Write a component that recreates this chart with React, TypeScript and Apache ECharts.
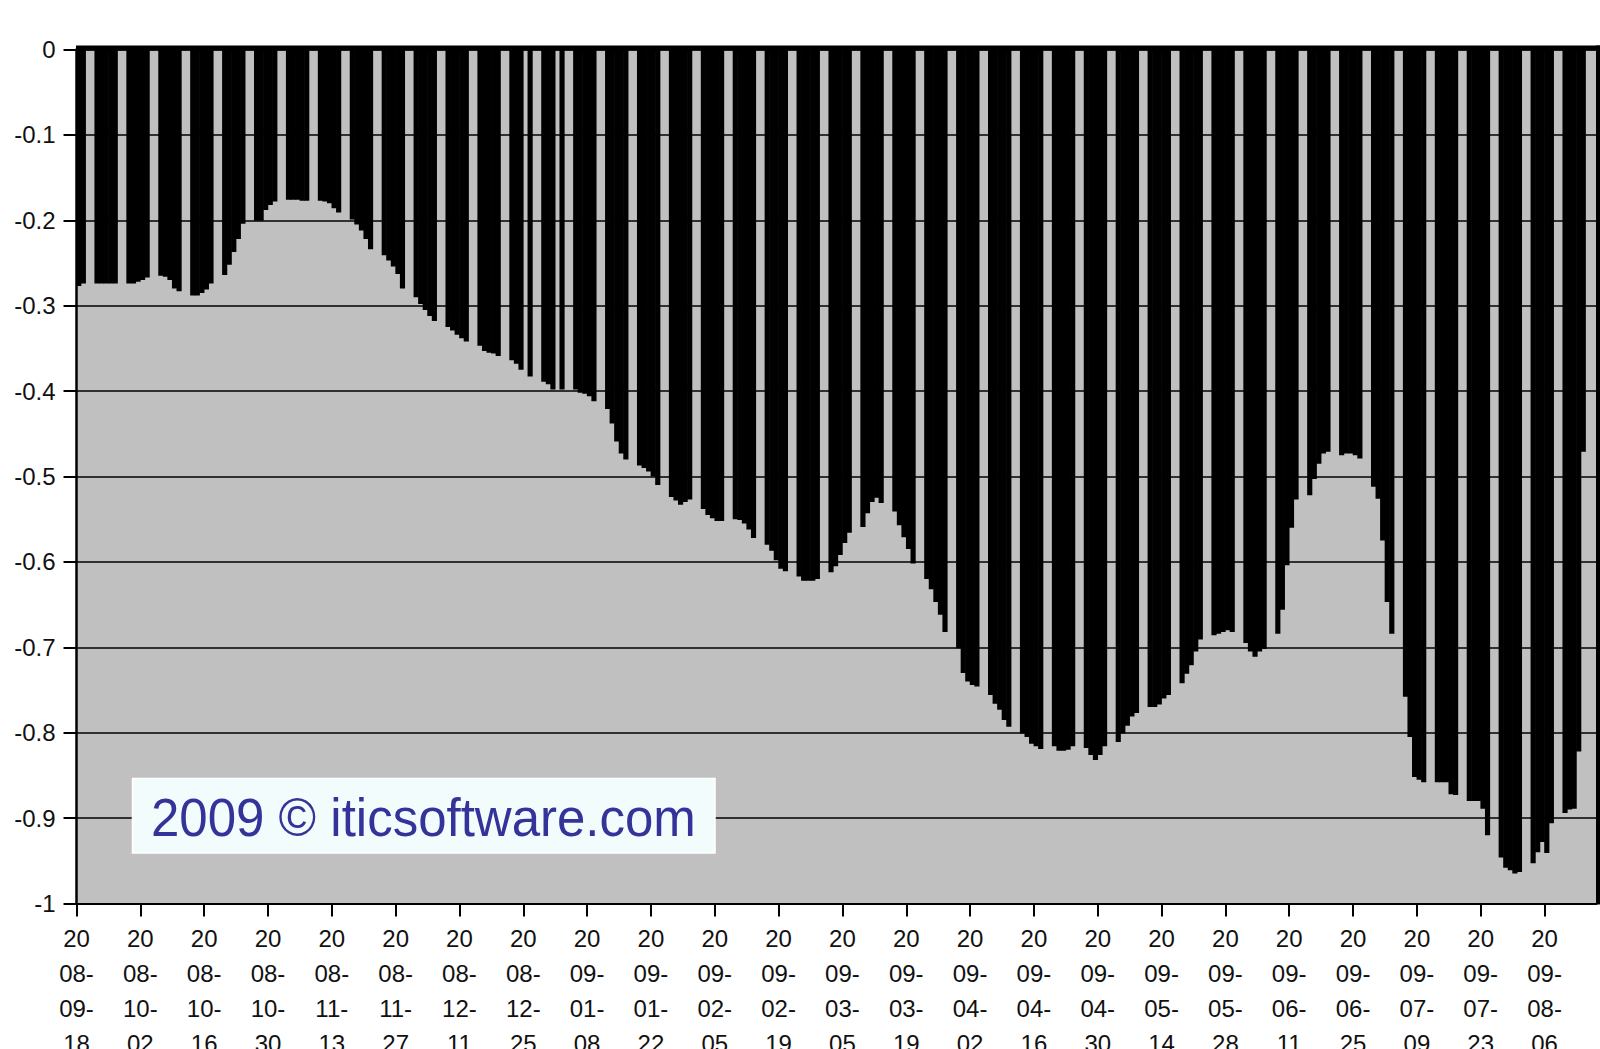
import { useEffect, useRef } from "react";
import * as echarts from "echarts";

// First trading day shown; each value below is one weekday (Mon–Fri) in order, null = no data that day.
const startDate = "2008-09-18";

// 2008-09-18 .. 2008-10-31
const lossSepOct2008: (number | null)[] = [
  -0.277, -0.274,
  -0.274, -0.274, -0.274, -0.274, -0.274,
  -0.274, -0.274, -0.272, -0.27, -0.267,
  -0.265, -0.266, -0.27, -0.28, -0.283,
  -0.288, -0.288, -0.285, -0.281, -0.274,
  -0.264, -0.252, -0.237, -0.222, -0.204,
  -0.2005, -0.2005, -0.188, -0.182, -0.178,
];

// 2008-11-03 .. 2008-12-31
const lossNovDec2008: (number | null)[] = [
  -0.176, -0.176, -0.176, -0.177, -0.177,
  -0.177, -0.178, -0.18, -0.186, -0.191,
  -0.199, -0.205, -0.212, -0.222, -0.234,
  -0.241, -0.247, -0.254, -0.263, -0.28,
  -0.29, -0.298, -0.305, -0.312, -0.318,
  -0.325, -0.329, -0.334, -0.338, -0.342,
  -0.347, -0.353, -0.355, -0.356, -0.359,
  -0.364, -0.368, -0.375, null, -0.383,
  -0.389, -0.392, -0.398,
];

// 2009-01-01 .. 2009-03-27
const lossJanMar2009: (number | null)[] = [
  null, -0.398,
  -0.398, -0.402, -0.403, -0.406, -0.412,
  -0.421, -0.438, -0.459, -0.473, -0.48,
  -0.487, -0.49, -0.494, -0.5, -0.51,
  -0.524, -0.528, -0.533, -0.53, -0.527,
  -0.538, -0.545, -0.549, -0.552, -0.552,
  -0.55, -0.551, -0.555, -0.562, -0.572,
  -0.58, -0.587, -0.598, -0.608, -0.611,
  -0.617, -0.622, -0.622, -0.622, -0.62,
  -0.612, -0.605, -0.592, -0.578, -0.566,
  -0.559, -0.543, -0.53, -0.525, -0.531,
  -0.541, -0.557, -0.571, -0.585, -0.602,
  -0.62, -0.632, -0.647, -0.662, -0.682,
];

// 2009-03-30 .. 2009-05-29
const lossAprMay2009: (number | null)[] = [
  -0.701, -0.73, -0.74, -0.744, -0.746,
  -0.756, -0.766, -0.773, -0.785, -0.793,
  -0.801, -0.805, -0.813, -0.816, -0.819,
  -0.816, -0.821, -0.821, -0.82, -0.816,
  -0.818, -0.826, -0.832, -0.826, -0.816,
  -0.811, -0.801, -0.792, -0.781, -0.777,
  -0.77, -0.77, -0.767, -0.76, -0.756,
  -0.742, -0.731, -0.721, -0.705, -0.691,
  -0.686, -0.684, -0.682, -0.68, -0.682,
  -0.695, -0.705, -0.711, -0.705, -0.702,
];

// 2009-06-01 .. 2009-08-14
const lossJunAug2009: (number | null)[] = [
  -0.684, -0.656, -0.604, -0.56, -0.527,
  -0.522, -0.503, -0.485, -0.473, -0.471,
  -0.475, -0.473, -0.473, -0.475, -0.479,
  -0.512, -0.526, -0.575, -0.647, -0.684,
  -0.758, -0.805, -0.852, -0.855, -0.858,
  -0.858, -0.858, -0.858, -0.872, -0.873,
  -0.88, -0.88, -0.88, -0.889, -0.92,
  -0.946, -0.958, -0.961, -0.965, -0.963,
  -0.953, -0.94, -0.928, -0.941, -0.906,
  -0.894, -0.89, -0.889, -0.822, -0.471,
];

// Tick labels every 14 days on the date axis
const tickDates = [
  "2008-09-18", "2008-10-02", "2008-10-16", "2008-10-30", "2008-11-13", "2008-11-27",
  "2008-12-11", "2008-12-25", "2009-01-08", "2009-01-22", "2009-02-05", "2009-02-19",
  "2009-03-05", "2009-03-19", "2009-04-02", "2009-04-16", "2009-04-30", "2009-05-14",
  "2009-05-28", "2009-06-11", "2009-06-25", "2009-07-09", "2009-07-23", "2009-08-06",
];

const yTicks = [0, -0.1, -0.2, -0.3, -0.4, -0.5, -0.6, -0.7, -0.8, -0.9, -1];
const watermark = "2009 \u00A9 iticsoftware.com";

const FONT = '"Liberation Sans", Arial, "DejaVu Sans", sans-serif';

const GRID_LEFT = 76.5;
const GRID_RIGHT = 3.5;
const X_MAX = 333.4;
const CHART_W = 1600;

function buildData(): [number, number][] {
  const all = [
    ...lossSepOct2008,
    ...lossNovDec2008,
    ...lossJanMar2009,
    ...lossAprMay2009,
    ...lossJunAug2009,
  ];
  const startDow = new Date(startDate + "T00:00:00Z").getUTCDay();
  const out: [number, number][] = [];
  let offset = 0;
  for (const v of all) {
    while ((startDow + offset) % 7 === 0 || (startDow + offset) % 7 === 6) offset++;
    if (v !== null) out.push([offset + 0.5, v]);
    offset++;
  }
  return out;
}

export default function App() {
  const ref = useRef<HTMLDivElement>(null);

  useEffect(() => {
    if (!ref.current) return;
    const chart = echarts.init(ref.current, null, { renderer: "svg" });
    const data = buildData();
    // one day on the date axis, in pixels; bars overlap slightly so no anti-alias seams show
    const dayPx = (CHART_W - GRID_LEFT - GRID_RIGHT) / X_MAX;

    const option: any = {
      animation: false,
      backgroundColor: "#ffffff",
      grid: {
        left: GRID_LEFT,
        right: GRID_RIGHT,
        top: 49.5,
        bottom: 145.5,
        show: true,
        backgroundColor: "#C0C0C0",
        borderWidth: 0,
        containLabel: false,
        outerBoundsMode: "none",
      },
      xAxis: {
        type: "value",
        min: 0,
        max: X_MAX,
        interval: 14,
        axisLine: { show: true, onZero: false, lineStyle: { color: "#000", width: 2 } },
        axisTick: { show: true, length: 13, lineStyle: { color: "#000", width: 2 } },
        splitLine: { show: false },
        axisLabel: {
          showMaxLabel: false,
          margin: 17,
          fontSize: 24,
          lineHeight: 35,
          color: "#111",
          fontFamily: FONT,
          formatter: (v: number) => {
            const i = Math.round(v / 14);
            if (Math.abs(v - i * 14) > 1e-6 || i < 0 || i >= tickDates.length) return "";
            const s = tickDates[i];
            return [s.slice(0, 2), s.slice(2, 5), s.slice(5, 8), s.slice(8)].join("\n");
          },
        },
      },
      yAxis: {
        type: "value",
        min: yTicks[yTicks.length - 1],
        max: yTicks[0],
        interval: 0.1,
        axisLine: { show: true, onZero: false, lineStyle: { color: "#000", width: 2.5 } },
        axisTick: { show: true, length: 13, lineStyle: { color: "#000", width: 2 } },
        splitLine: { show: true, lineStyle: { color: "#000", width: 1.5 } },
        axisLabel: {
          margin: 21,
          fontSize: 24,
          color: "#111",
          fontFamily: FONT,
          formatter: (v: number) => String(Number(v.toFixed(1))),
        },
      },
      series: [
        {
          type: "bar",
          data,
          barWidth: dayPx + 0.6,
          barGap: "0%",
          silent: true,
          itemStyle: { color: "#000", borderWidth: 0 },
        },
      ],
      graphic: [
        {
          type: "rect",
          z: 100,
          shape: { x: 76, y: 45.5, width: 1524, height: 5 },
          style: { fill: "#000" },
        },
        {
          type: "rect",
          z: 100,
          shape: { x: 1596, y: 45.5, width: 4, height: 859 },
          style: { fill: "#000" },
        },
        {
          type: "rect",
          z: 100,
          shape: { x: 132.5, y: 778.5, width: 582.5, height: 74.5 },
          style: { fill: "#F2FCFC", stroke: "#FFFFFF", lineWidth: 1.5 },
        },
        {
          type: "text",
          z: 101,
          x: 151,
          y: 818,
          scaleY: 1.04,
          style: {
            text: watermark,
            fill: "#333399",
            fontSize: 51,
            fontFamily: FONT,
            align: "left",
            verticalAlign: "middle",
          },
        },
      ],
    };

    chart.setOption(option);
    return () => chart.dispose();
  }, []);

  return (
    <div
      ref={ref}
      style={{ position: "fixed", left: 0, top: 0, width: 1600, height: 1049, background: "#fff" }}
    />
  );
}
